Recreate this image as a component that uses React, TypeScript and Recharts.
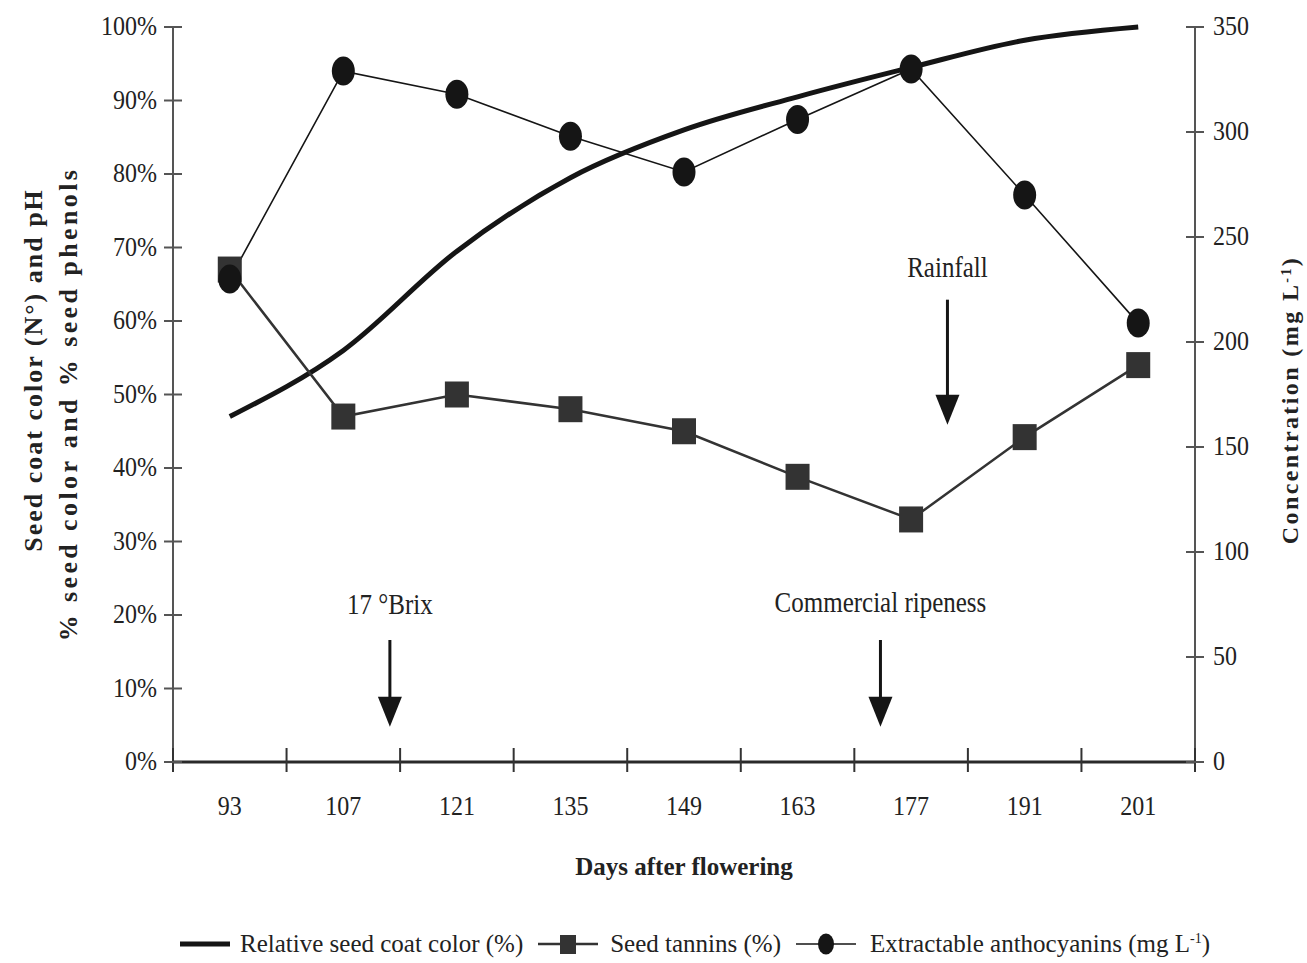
import React from 'react';
import { ComposedChart, Line, XAxis, YAxis } from 'recharts';

const days = ['93', '107', '121', '135', '149', '163', '177', '191', '201'];
const seedCoatColor = [47, 56, 69.5, 79.5, 86, 90.5, 94.5, 98.2, 100];
const seedTannins = [67, 47, 50, 48, 45, 38.8, 33, 44.2, 54];
const anthocyanins = [230, 329, 318, 298, 281, 306, 330, 270, 209];

const leftTicks = [0, 10, 20, 30, 40, 50, 60, 70, 80, 90, 100];
const rightTicks = [0, 50, 100, 150, 200, 250, 300, 350];

// arrows: position in category units, text / arrow top / arrow tip in % of left axis
const annotations = [
  { text: '17 °Brix', at: 1.41, textAt: 21.4, top: 16.6, tip: 4.8 },
  { text: 'Commercial ripeness', at: 5.73, textAt: 21.6, top: 16.6, tip: 4.8 },
  { text: 'Rainfall', at: 6.32, textAt: 67.2, top: 62.9, tip: 45.9 },
];

const data = days.map((day, i) => ({
  day,
  color: seedCoatColor[i],
  tannins: seedTannins[i],
  antho: anthocyanins[i],
}));

const W = 1307;
const H = 963;
const LEFT = 173;
const RIGHT = 1195;
const TOP = 27;
const BOTTOM = 762;
const BAND = (RIGHT - LEFT) / days.length;
const FONT = '"Liberation Serif", "Times New Roman", serif';
const INK = '#151515';

const xOf = (at: number) => LEFT + (at + 0.5) * BAND;
const yOf = (pct: number) => BOTTOM - ((BOTTOM - TOP) * pct) / 100;

const LeftTick = (props: any) => {
  const { y, payload } = props;
  return (
    <g>
      <line x1={LEFT - 9} x2={LEFT + 9} y1={y} y2={y} stroke="#555" strokeWidth={2} />
      <text
        transform={`translate(${LEFT - 16}, ${y + 8}) scale(1, 1.15)`}
        textAnchor="end"
        fontSize={24}
        fontFamily={FONT}
        fill="#222"
      >
        {payload.value}%
      </text>
    </g>
  );
};

const RightTick = (props: any) => {
  const { y, payload } = props;
  return (
    <g>
      <line x1={RIGHT - 9} x2={RIGHT + 9} y1={y} y2={y} stroke="#555" strokeWidth={2} />
      <text
        transform={`translate(${RIGHT + 18}, ${y + 8}) scale(1, 1.15)`}
        textAnchor="start"
        fontSize={24}
        fontFamily={FONT}
        fill="#222"
      >
        {payload.value}
      </text>
    </g>
  );
};

const DayTick = (props: any) => {
  const { x, payload, index } = props;
  const last = index === days.length - 1;
  return (
    <g>
      <line x1={x - BAND / 2} x2={x - BAND / 2} y1={BOTTOM - 14} y2={BOTTOM + 10} stroke="#333" strokeWidth={2} />
      {last && (
        <line x1={x + BAND / 2} x2={x + BAND / 2} y1={BOTTOM - 14} y2={BOTTOM + 10} stroke="#333" strokeWidth={2} />
      )}
      <text
        transform={`translate(${x}, ${BOTTOM + 53}) scale(1, 1.15)`}
        textAnchor="middle"
        fontSize={24}
        fontFamily={FONT}
        fill="#222"
      >
        {payload.value}
      </text>
    </g>
  );
};

const LeftTitle = () => (
  <g fontFamily={FONT} fontWeight="bold" fontSize={26} fill="#222">
    <text transform="translate(42, 370) rotate(-90)" textAnchor="middle" letterSpacing={2}>
      Seed coat color (N°) and pH
    </text>
    <text transform="translate(77, 404) rotate(-90)" textAnchor="middle" letterSpacing={3.4}>
      % seed color and % seed phenols
    </text>
  </g>
);

const RightTitle = () => (
  <text
    transform="translate(1298, 400) rotate(-90)"
    textAnchor="middle"
    fontFamily={FONT}
    fontWeight="bold"
    fontSize={24}
    letterSpacing={2.4}
    fill="#222"
  >
    Concentration (mg L<tspan baseline-shift="super" fontSize={14}>-1</tspan>)
  </text>
);

const SquareDot = (props: any) => {
  const { cx, cy, index } = props;
  return <rect key={`sq-${index}`} x={cx - 12} y={cy - 13} width={24} height={26} fill="#333" />;
};

const CircleDot = (props: any) => {
  const { cx, cy, index } = props;
  return <ellipse key={`ci-${index}`} cx={cx} cy={cy} rx={11.5} ry={14.5} fill={INK} />;
};

const Arrows = () => (
  <svg width={W} height={H} style={{ position: 'absolute', left: 0, top: 0, pointerEvents: 'none' }}>
    {annotations.map((a) => {
      const x = xOf(a.at);
      const top = yOf(a.top);
      const tip = yOf(a.tip);
      return (
        <g key={a.text}>
          <text
            transform={`translate(${x}, ${yOf(a.textAt) + 9}) scale(1, 1.15)`}
            textAnchor="middle"
            fontSize={25}
            fontFamily={FONT}
            fill="#222"
          >
            {a.text}
          </text>
          <line x1={x} x2={x} y1={top} y2={tip - 20} stroke={INK} strokeWidth={3} />
          <polygon points={`${x - 12},${tip - 30} ${x + 12},${tip - 30} ${x},${tip}`} fill={INK} />
        </g>
      );
    })}
  </svg>
);

const LegendRow = () => (
  <div
    style={{
      position: 'absolute',
      left: 178,
      top: 930,
      display: 'flex',
      alignItems: 'center',
      fontFamily: FONT,
      fontSize: 25,
      color: '#222',
      whiteSpace: 'nowrap',
    }}
  >
    <svg width={54} height={20}>
      <line x1={2} x2={52} y1={10} y2={10} stroke={INK} strokeWidth={5} />
    </svg>
    <span style={{ marginLeft: 8, marginRight: 15 }}>Relative seed coat color (%)</span>
    <svg width={60} height={24}>
      <line x1={0} x2={60} y1={12} y2={12} stroke="#333" strokeWidth={2.5} />
      <rect x={22} y={3} width={16} height={19} fill="#333" />
    </svg>
    <span style={{ marginLeft: 12, marginRight: 15 }}>Seed tannins (%)</span>
    <svg width={60} height={24}>
      <line x1={0} x2={60} y1={12} y2={12} stroke={INK} strokeWidth={1.5} />
      <ellipse cx={30} cy={12} rx={8} ry={10.5} fill={INK} />
    </svg>
    <span style={{ marginLeft: 14 }}>
      Extractable anthocyanins (mg L<sup style={{ fontSize: 14 }}>-1</sup>)
    </span>
  </div>
);

export default function App() {
  return (
    <div style={{ position: 'absolute', left: 0, top: 0, width: W, height: H, background: '#fff' }}>
      <ComposedChart width={W} height={H} data={data} margin={{ top: TOP, right: 0, bottom: 0, left: 0 }}>
        <XAxis
          dataKey="day"
          scale="band"
          interval={0}
          height={H - BOTTOM}
          axisLine={{ stroke: '#2a2a2a', strokeWidth: 3 }}
          tickLine={false}
          tick={<DayTick />}
          label={{
            value: 'Days after flowering',
            position: 'insideTop',
            offset: 95,
            fontFamily: FONT,
            fontWeight: 'bold',
            fontSize: 25,
            fill: '#222',
          }}
        />
        <YAxis
          yAxisId="left"
          width={LEFT}
          domain={[0, 100]}
          ticks={leftTicks}
          interval={0}
          axisLine={{ stroke: '#555', strokeWidth: 2 }}
          tickLine={false}
          tick={<LeftTick />}
          label={<LeftTitle />}
        />
        <YAxis
          yAxisId="right"
          orientation="right"
          width={W - RIGHT}
          domain={[0, 350]}
          ticks={rightTicks}
          interval={0}
          axisLine={{ stroke: '#555', strokeWidth: 2 }}
          tickLine={false}
          tick={<RightTick />}
          label={<RightTitle />}
        />
        <Line
          yAxisId="left"
          type="monotone"
          dataKey="color"
          stroke={INK}
          strokeWidth={5}
          dot={false}
          isAnimationActive={false}
        />
        <Line
          yAxisId="left"
          type="linear"
          dataKey="tannins"
          stroke="#333"
          strokeWidth={2.5}
          dot={<SquareDot />}
          isAnimationActive={false}
        />
        <Line
          yAxisId="right"
          type="linear"
          dataKey="antho"
          stroke={INK}
          strokeWidth={1.6}
          dot={<CircleDot />}
          isAnimationActive={false}
        />
      </ComposedChart>
      <Arrows />
      <LegendRow />
    </div>
  );
}
